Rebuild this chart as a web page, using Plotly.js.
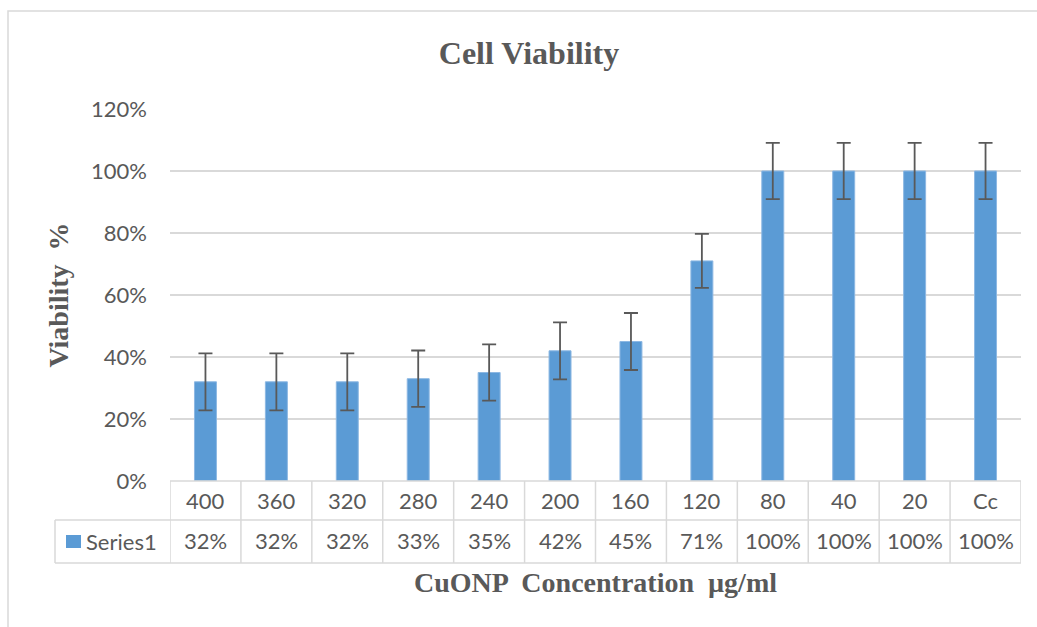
<!DOCTYPE html>
<html>
<head>
<meta charset="utf-8">
<script src="https://cdn.plot.ly/plotly-3.0.1.min.js"></script>
<style>html,body{margin:0;padding:0;background:#fff;}#chart{width:1037px;height:627px;}</style>
</head>
<body>
<div id="chart"></div>
<script>
// Data
const categories = ["400", "360", "320", "280", "240", "200", "160", "120", "80", "40", "20", "Cc"];
const viability = [32, 32, 32, 33, 35, 42, 45, 71, 100, 100, 100, 100];
const errors = [9.2, 9.2, 9.2, 9.1, 9.1, 9.2, 9.2, 8.7, 9.1, 9.1, 9.1, 9.1];
const seriesName = "Series1";
const yTicks = [0, 20, 40, 60, 80, 100, 120];

const W = 1037, H = 627;
const mL = 170, mR = 16, mT = 109, mB = 146;
const pw = W - mL - mR, ph = H - mT - mB;
const px = x => (x - mL) / pw;          // pixel x -> paper x
const py = y => (H - mB - y) / ph;      // pixel y -> paper y

const gridCol = "#d9d9d9";
const textCol = "#595959";
const barCol = "#5b9bd5";
const sans = "Lato, 'Open Sans', sans-serif";
const serif = "'Liberation Serif', 'Times New Roman', serif";
const fs = 22;

const row1Bottom = py(520), row2Bottom = py(563);
const legLeft = px(55);

const shapes = [];
// table top border
shapes.push({type:"line", xref:"x", yref:"paper", x0:-0.5, x1:categories.length-0.5, y0:0, y1:0, line:{color:gridCol, width:1.5}});
// row borders
[row1Bottom, row2Bottom].forEach(y => shapes.push({type:"line", xref:"paper", yref:"paper", x0:legLeft, x1:1, y0:y, y1:y, line:{color:gridCol, width:1.5}}));
// column borders
for (let i = 0; i <= categories.length; i++) {
  shapes.push({type:"line", xref:"x", yref:"paper", x0:i-0.5, x1:i-0.5, y0:0, y1:row2Bottom, line:{color:gridCol, width:1.5}});
}
shapes.push({type:"line", xref:"paper", yref:"paper", x0:legLeft, x1:legLeft, y0:row1Bottom, y1:row2Bottom, line:{color:gridCol, width:1.5}});
// legend key square
shapes.push({type:"rect", xref:"paper", yref:"paper", x0:px(66), x1:px(81), y0:py(535), y1:py(548), fillcolor:barCol, line:{width:0}});
// chart frame
shapes.push({type:"rect", xref:"paper", yref:"paper", x0:px(8), x1:px(1045), y0:py(635), y1:py(11), line:{color:gridCol, width:1.5}, fillcolor:"rgba(0,0,0,0)", layer:"below"});

const annotations = [];
categories.forEach((c, i) => {
  annotations.push({xref:"x", yref:"paper", x:i, y:py(500), text:c, showarrow:false, xanchor:"center", yanchor:"middle", font:{family:sans, size:fs, color:textCol}});
  annotations.push({xref:"x", yref:"paper", x:i, y:py(540), text:Math.round(viability[i]) + "%", showarrow:false, xanchor:"center", yanchor:"middle", font:{family:sans, size:fs, color:textCol}});
});
annotations.push({xref:"paper", yref:"paper", x:px(84), y:py(541), text:seriesName, showarrow:false, xanchor:"left", yanchor:"middle", font:{family:sans, size:fs, color:textCol}});

const trace = {
  type:"bar",
  x: categories,
  y: viability,
  name: seriesName,
  marker:{color:barCol, line:{color:"#8db8e3", width:1}},
  error_y:{type:"data", array:errors, visible:true, color:textCol, thickness:1.8, width:7},
  hoverinfo:"x+y",
  showlegend:false
};

const layout = {
  width:W, height:H,
  margin:{l:mL, r:mR, t:mT, b:mB, pad:0},
  paper_bgcolor:"#fff", plot_bgcolor:"#fff",
  bargap:0.69,
  title:{text:"<b>Cell Viability</b>", x:529/W, xref:"container", xanchor:"center", y:1-53/H, yref:"container", yanchor:"middle", font:{family:serif, size:32, color:textCol}},
  xaxis:{type:"category", range:[-0.5, categories.length-0.5], showticklabels:false, showgrid:false, zeroline:false, showline:false, ticks:"", fixedrange:true,
         title:{text:"<b>CuONP  Concentration  µg/ml</b>", standoff:91, font:{family:serif, size:28, color:textCol}}},
  yaxis:{range:[0,120], tickvals:yTicks, ticktext:yTicks.map(v => v + "%"), showgrid:true, gridcolor:gridCol, gridwidth:1.5, zeroline:false, showline:false, ticks:"",
         ticklabelstandoff:22, tickfont:{family:sans, size:fs, color:textCol}, fixedrange:true,
         title:{text:"<b>Viability  %</b>", standoff:14, font:{family:serif, size:28, color:textCol}}},
  shapes:shapes,
  annotations:annotations,
  showlegend:false
};

Plotly.newPlot("chart", [trace], layout, {displayModeBar:false, staticPlot:true});
</script>
</body>
</html>
